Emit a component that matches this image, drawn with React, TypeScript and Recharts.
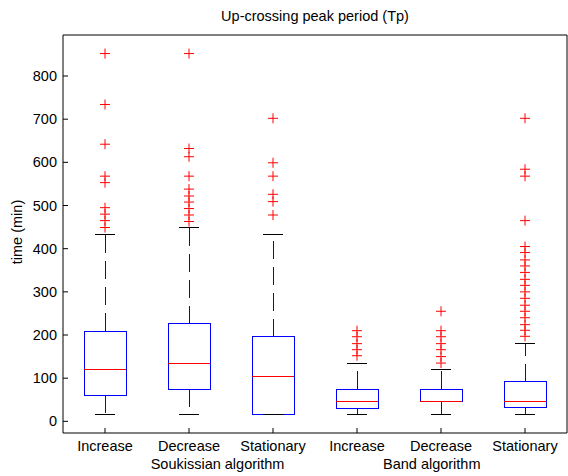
import { ComposedChart, Customized, ReferenceArea, ReferenceDot, ReferenceLine, Scatter, XAxis, YAxis } from 'recharts';

const FONT = '"Liberation Sans", Arial, sans-serif';
const BLUE = '#0000ff';
const RED = '#ff0000';
const BLACK = '#000000';
const FS = 14.5;

const categories = ['Increase', 'Decrease', 'Stationary', 'Increase', 'Decrease', 'Stationary'];
const positions = [1, 2, 3, 4, 5, 6];
const groupLabels = ['Soukissian algorithm', 'Band algorithm'];
const groupLabelPos = [2.34, 4.89];
const yTicks = [0, 100, 200, 300, 400, 500, 600, 700, 800];
const yDomain = [-27, 895];

// box plot stats (min)
const lowerWhisker = [16, 16, 15, 16, 16, 16];
const q1 = [61, 74, 15, 30, 45, 32];
const median = [120, 134, 104, 45, 45, 46];
const q3 = [209, 226, 196, 74, 74, 92];
const upperWhisker = [432, 449, 432, 135, 121, 180];

const outliers1 = [852, 734, 642, 568, 553, 495, 480, 465, 449];
const outliers2 = [852, 632, 613, 568, 538, 522, 508, 493, 478, 463];
const outliers3 = [702, 599, 568, 526, 509, 478];
const outliers4 = [210, 196, 180, 166, 152];
const outliers5 = [255, 210, 196, 180, 166, 150, 135];
const outliers6 = [702, 584, 568, 465, 405, 391, 374, 360, 345, 329, 315, 300, 285, 269, 255, 240, 224, 211, 197];
const outliers = [outliers1, outliers2, outliers3, outliers4, outliers5, outliers6];

const outlierPoints = outliers.flatMap((vals, i) => vals.map((v) => ({ x: positions[i], y: v })));

const BOX_HALF = 0.25;
const CAP_HALF = 0.12;

function Cross({ cx, cy }: any) {
  return (
    <g stroke={RED} strokeWidth={1}>
      <line x1={cx - 5} y1={cy} x2={cx + 5} y2={cy} />
      <line x1={cx} y1={cy - 5} x2={cx} y2={cy + 5} />
    </g>
  );
}

function LeftTick({ x, y, payload }: any) {
  return (
    <g>
      <line x1={x + 6} y1={y} x2={x + 11} y2={y} stroke={BLACK} />
      <text x={x} y={y} dy={5} textAnchor="end" fontSize={FS} fontFamily={FONT} fill={BLACK}>
        {payload.value}
      </text>
    </g>
  );
}

function BottomTick({ x, y, payload }: any) {
  return (
    <g>
      <line x1={x} y1={y} x2={x} y2={y - 5} stroke={BLACK} />
      <text x={x} y={y} dy={18} textAnchor="middle" fontSize={FS} fontFamily={FONT} fill={BLACK}>
        {categories[payload.value - 1]}
      </text>
    </g>
  );
}

function Titles() {
  return (
    <g fontFamily={FONT} fontSize={FS} fill={BLACK}>
      <text x={315} y={21} textAnchor="middle">
        Up-crossing peak period (Tp)
      </text>
      <text x={22} y={232} textAnchor="middle" transform="rotate(-90 22 232)">
        time (min)
      </text>
    </g>
  );
}

export default function App() {
  const axisIds = { xAxisId: 'a', yAxisId: 'l' };
  const crisp = { shapeRendering: 'crispEdges' as const };
  const marks = positions.flatMap((x, i) => [
    <ReferenceLine
      key={`wu${i}`}
      {...axisIds}
      {...crisp}
      segment={[{ x, y: q3[i] }, { x, y: upperWhisker[i] }]}
      stroke={BLUE}
      strokeDasharray="18 8"
      ifOverflow="visible"
    />,
    <ReferenceLine
      key={`wl${i}`}
      {...axisIds}
      {...crisp}
      segment={[{ x, y: q1[i] }, { x, y: lowerWhisker[i] }]}
      stroke={BLUE}
      strokeDasharray="18 8"
      ifOverflow="visible"
    />,
    <ReferenceArea
      key={`b${i}`}
      {...axisIds}
      {...crisp}
      x1={x - BOX_HALF}
      x2={x + BOX_HALF}
      y1={q1[i]}
      y2={q3[i]}
      fill="none"
      fillOpacity={0}
      stroke={BLUE}
      strokeWidth={1}
      ifOverflow="visible"
    />,
    <ReferenceLine
      key={`m${i}`}
      {...axisIds}
      {...crisp}
      segment={[{ x: x - BOX_HALF, y: median[i] }, { x: x + BOX_HALF, y: median[i] }]}
      stroke={RED}
      ifOverflow="visible"
    />,
    <ReferenceLine
      key={`cu${i}`}
      {...axisIds}
      {...crisp}
      segment={[{ x: x - CAP_HALF, y: upperWhisker[i] }, { x: x + CAP_HALF, y: upperWhisker[i] }]}
      stroke={BLACK}
      ifOverflow="visible"
    />,
    <ReferenceLine
      key={`cl${i}`}
      {...axisIds}
      {...crisp}
      segment={[{ x: x - CAP_HALF, y: lowerWhisker[i] }, { x: x + CAP_HALF, y: lowerWhisker[i] }]}
      stroke={BLACK}
      ifOverflow="visible"
    />,
  ]);

  const groupMarks = groupLabels.map((text, k) => (
    <ReferenceDot
      key={`g${k}`}
      {...axisIds}
      x={groupLabelPos[k]}
      y={yDomain[0]}
      r={0}
      fill="none"
      stroke="none"
      ifOverflow="visible"
      label={{ value: text, position: 'bottom', offset: 26, fontSize: FS, fontFamily: FONT, fill: BLACK }}
    />
  ));

  return (
    <div style={{ position: 'absolute', left: 0, top: 0, background: '#fff' }}>
      <ComposedChart width={568} height={476} margin={{ top: 35, right: 1, bottom: 25, left: 0 }}>
        <XAxis
          xAxisId="a"
          type="number"
          dataKey="x"
          domain={[0.5, 6.5]}
          ticks={positions}
          allowDataOverflow
          height={18}
          tickSize={0}
          tickMargin={0}
          tickLine={false}
          axisLine={{ stroke: BLACK }}
          tick={<BottomTick />}
        />
        <XAxis
          xAxisId="t"
          orientation="top"
          mirror
          type="number"
          domain={[0.5, 6.5]}
          ticks={positions}
          allowDataOverflow
          height={1}
          tickSize={5}
          tick={false}
          tickLine={{ stroke: BLACK }}
          axisLine={{ stroke: BLACK }}
        />
        <YAxis
          yAxisId="l"
          type="number"
          dataKey="y"
          domain={yDomain}
          ticks={yTicks}
          allowDataOverflow
          width={63}
          tickSize={0}
          tickMargin={6}
          tickLine={false}
          axisLine={{ stroke: BLACK }}
          tick={<LeftTick />}
        />
        <YAxis
          yAxisId="r"
          orientation="right"
          mirror
          type="number"
          domain={yDomain}
          ticks={yTicks}
          allowDataOverflow
          width={1}
          tickSize={5}
          tick={false}
          tickLine={{ stroke: BLACK }}
          axisLine={{ stroke: BLACK }}
        />
        {marks}
        <Scatter
          xAxisId="a"
          yAxisId="l"
          data={outlierPoints}
          dataKey="y"
          shape={<Cross />}
          isAnimationActive={false}
        />
        {groupMarks}
        <Customized component={<Titles />} />
      </ComposedChart>
    </div>
  );
}
